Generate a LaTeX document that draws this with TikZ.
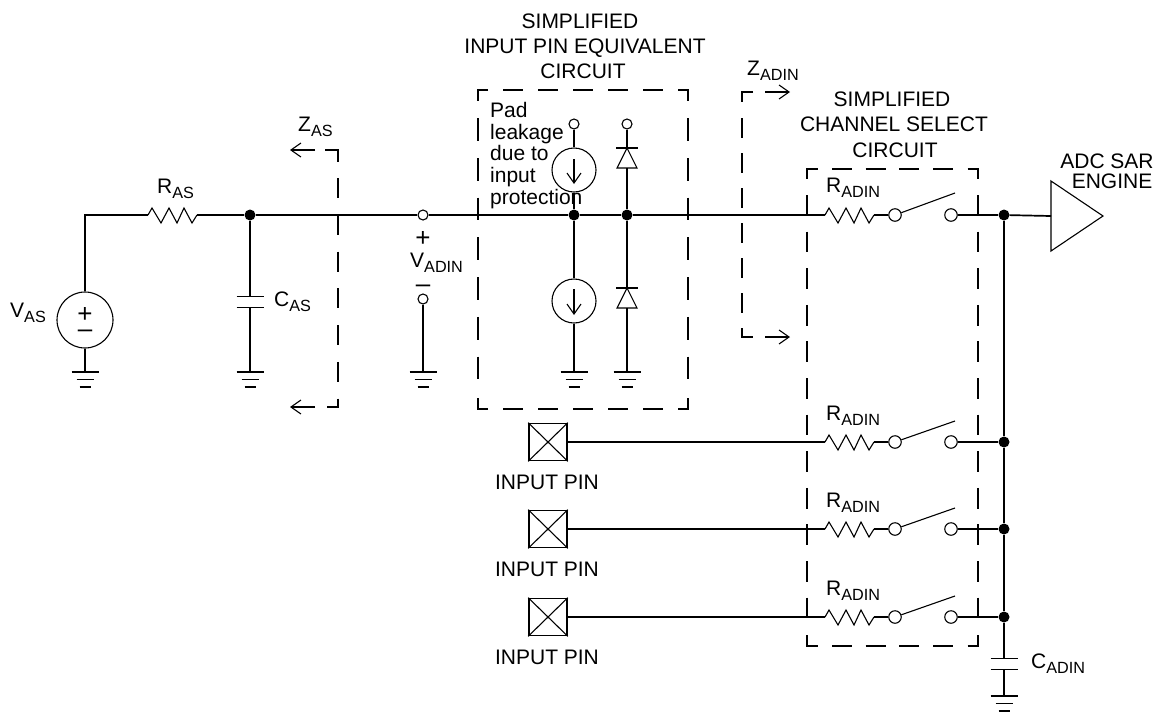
\documentclass[tikz,border=0pt]{standalone}
\usepackage{fontspec}
\setmainfont{Liberation Sans}
\usetikzlibrary{arrows.meta,calc}
\newcommand{\subs}[2]{#1\raisebox{-5pt}{\fontsize{16.2}{16}\selectfont #2}}
\tikzset{
  wire/.style={line width=1.7pt,line cap=butt},
  thinl/.style={line width=1.1pt},
  barb/.style={line width=1.1pt,-{Straight Barb[length=10pt,width=14pt,line width=1.1pt]}},
  dotn/.style={circle,fill=black,draw=none,minimum size=11pt,inner sep=0pt},
  openn/.style={circle,draw=black,fill=white,line width=1.1pt,minimum size=10pt,inner sep=0pt},
  opensw/.style={circle,draw=black,fill=white,line width=1.1pt,minimum size=12.5pt,inner sep=0pt},
  srcn/.style={circle,draw=black,line width=1.1pt,minimum size=44pt,inner sep=0pt},
  pinbox/.style={rectangle,draw=black,line width=1.7pt,minimum width=38pt,minimum height=37pt,inner sep=0pt},
  txt/.style={inner sep=0pt,anchor=base west,font=\fontsize{21}{22}\selectfont},
  ctxt/.style={inner sep=0pt,anchor=base,font=\fontsize{21}{22}\selectfont},
  signtxt/.style={inner sep=0pt,anchor=base,font=\fontsize{26}{26}\selectfont},
  respic/.pic={
    \draw[wire] (0,0) -- (3,0);
    \draw[thinl,line join=miter] (3,0) -- (7,-7) -- (16,8) -- (24,-7) -- (32,8) -- (39,-7) -- (47,8) -- (52,0);
    \draw[wire] (52,0) -- (55,0);
    \coordinate (-in) at (0,0);
    \coordinate (-out) at (55,0);
  },
  gndpic/.pic={
    \draw[wire] (-13.5,0) -- (13.5,0);
    \draw[wire] (-8.5,7.5) -- (8.5,7.5);
    \draw[wire] (-5.5,15) -- (5.5,15);
    \coordinate (-top) at (0,0);
  },
  cappic/.pic={
    \draw[wire] (-13.5,-5.5) -- (13.5,-5.5);
    \draw[wire] (-13.5,5.5) -- (13.5,5.5);
    \coordinate (-top) at (0,-5.5);
    \coordinate (-bot) at (0,5.5);
  },
  diodepic/.pic={
    \draw[wire] (-11,0) -- (11,0);
    \draw[thinl] (0,0) -- (-10,20) -- (10,20) -- cycle;
    \coordinate (-top) at (0,0);
    \coordinate (-bot) at (0,20);
  }
}
\begin{document}
\begin{tikzpicture}[x=1pt,y=-1pt]
\useasboundingbox (0,0) rectangle (1159,713);
\fill[white] (0,0) rectangle (1159,713);

% grounds
\pic (g1) at (85,372) {gndpic};
\pic (g2) at (250,372) {gndpic};
\pic (g3) at (423,372) {gndpic};
\pic (g4) at (574,372) {gndpic};
\pic (g5) at (627,372) {gndpic};
\pic (g6) at (1004,696) {gndpic};

% V_AS part
\node[circle,draw=black,line width=1.1pt,minimum size=56pt,inner sep=0pt] (vas) at (85,320) {};
\coordinate (corner) at (85,215);
\pic (ras) at (145,215) {respic};
\node[dotn] (d1) at (250,215) {};
\pic (cas) at (250,302) {cappic};
\node[openn] (vp) at (423,215) {};
\node[openn] (vm) at (423,299) {};
\draw[wire] (vas) -- (corner) -- (ras-in);
\draw[wire] (vas) -- (g1-top);
\draw[wire] (ras-out) -- (d1);
\draw[wire] (d1) -- (cas-top);
\draw[wire] (cas-bot) -- (g2-top);
\draw[wire] (d1) -- (vp);
\draw[wire] (vm) -- (g3-top);

% Input pin equivalent
\node[dotn] (d2) at (574,215) {};
\node[dotn] (d3) at (627,215) {};
\node[srcn] (i1) at (574,170) {};
\node[srcn] (i2) at (574,301) {};
\node[openn] (t1) at (574,124) {};
\node[openn] (t2) at (627,124) {};
\pic (dd1) at (627,148) {diodepic};
\pic (dd2) at (627,288) {diodepic};
\draw[wire] (t1) -- (i1);
\draw[wire] (i1) -- (d2);
\draw[wire] (d2) -- (i2);
\draw[wire] (i2) -- (g4-top);
\draw[wire] (t2) -- (dd1-top);
\draw[wire] (dd1-bot) -- (d3);
\draw[wire] (d3) -- (dd2-top);
\draw[wire] (dd2-bot) -- (g5-top);
\coordinate (a1s) at (574,159);
\coordinate (a1e) at (574,184);
\coordinate (a2s) at (574,289);
\coordinate (a2e) at (574,315);
\draw[barb] (a1s) -- (a1e);
\draw[barb] (a2s) -- (a2e);

% channel rows
\pic (r1) at (822,215) {respic};
\pic (r2) at (822,442) {respic};
\pic (r3) at (822,529) {respic};
\pic (r4) at (822,617) {respic};
\node[opensw] (sa1) at (895,215) {};
\node[opensw] (sa2) at (895,442) {};
\node[opensw] (sa3) at (895,529) {};
\node[opensw] (sa4) at (895,617) {};
\node[opensw] (sb1) at (951,215) {};
\node[opensw] (sb2) at (951,442) {};
\node[opensw] (sb3) at (951,529) {};
\node[opensw] (sb4) at (951,617) {};
\coordinate (e1) at (955,193);
\coordinate (e2) at (955,421);
\coordinate (e3) at (955,508);
\coordinate (e4) at (955,596);
\node[dotn] (b1) at (1004,215) {};
\node[dotn] (b2) at (1004,442) {};
\node[dotn] (b3) at (1004,529) {};
\node[dotn] (b4) at (1004,617) {};
\node[pinbox] (p2) at (548,442) {};
\node[pinbox] (p3) at (548,529) {};
\node[pinbox] (p4) at (548,617) {};
\foreach \i in {2,3,4}{
  \draw[thinl] (p\i.north west) -- (p\i.south east);
  \draw[thinl] (p\i.north east) -- (p\i.south west);
  \draw[wire] (p\i) -- (r\i-in);
}
\draw[wire] (vp) -- (d2);
\draw[wire] (d2) -- (d3);
\draw[wire] (d3) -- (r1-in);
\foreach \i in {1,2,3,4}{
  \draw[wire] (r\i-out) -- (sa\i);
  \draw[thinl] (sa\i) -- (e\i);
  \draw[wire] (sb\i) -- (b\i);
}
\draw[wire] (b1) -- (b2);
\draw[wire] (b2) -- (b3);
\draw[wire] (b3) -- (b4);
\pic (cad) at (1004,664) {cappic};
\draw[wire] (b4) -- (cad-top);
\draw[wire] (cad-bot) -- (g6-top);

% ADC
\coordinate (adcin) at (1051,216);
\draw[wire] (b1) -- (adcin);
\draw[thinl,line join=miter] (1051,181) -- (1103,216) -- (1051,251) -- cycle;

% dashed frame 1
\draw[wire,line join=miter] (488,90) -- (478,90) -- (478,101);
\draw[wire,line join=miter] (678,90) -- (688,90) -- (688,101);
\draw[wire,line join=miter] (488,409) -- (478,409) -- (478,398);
\draw[wire,line join=miter] (678,409) -- (688,409) -- (688,398);
\foreach \yy in {90,409}{\draw[wire,dash pattern=on 20pt off 15pt] (503,\yy) -- (664,\yy);}
\foreach \xx in {478,688}{\draw[wire,dash pattern=on 22.7pt off 17pt] (\xx,118.3) -- (\xx,381);}

% dashed frame 2
\draw[wire,line join=miter] (817.5,169) -- (807,169) -- (807,178.5);
\draw[wire,line join=miter] (967.5,169) -- (978,169) -- (978,178.5);
\draw[wire,line join=miter] (817.5,646) -- (807,646) -- (807,635);
\draw[wire,line join=miter] (967.5,646) -- (978,646) -- (978,635);
\foreach \yy in {169,646}{\draw[wire,dash pattern=on 20pt off 13.7pt] (832,\yy) -- (953.5,\yy);}
\foreach \xx in {807,978}{\draw[wire,dash pattern=on 20.7pt off 15.9pt] (\xx,195) -- (\xx,618.5);}

% Z_AS bracket
\coordinate (zas1) at (325,150);
\coordinate (zas2) at (338,150);
\coordinate (zas2b) at (338,162);
\coordinate (zas2c) at (338,178.3);
\coordinate (zas3) at (338,407);
\coordinate (zas4) at (325.5,407);
\draw[wire,line join=miter] (zas1) -- (zas2) -- (zas2b);
\draw[wire,line join=miter,dash pattern=on 20pt off 16.7pt] (zas2c) -- (zas3) -- (zas4);
\coordinate (za1s) at (315,150);
\coordinate (za1e) at (290,150);
\coordinate (za2s) at (315,407);
\coordinate (za2e) at (290,407);
\draw[barb] (za1s) -- (za1e);
\draw[barb] (za2s) -- (za2e);

% Z_ADIN bracket
\coordinate (zb1) at (753,92);
\coordinate (zb2) at (742,92);
\coordinate (zb2b) at (742,102);
\coordinate (zb2c) at (742,118.3);
\coordinate (zb3) at (742,337);
\coordinate (zb4) at (753.5,337);
\draw[wire,line join=miter] (zb1) -- (zb2) -- (zb2b);
\draw[wire,line join=miter,dash pattern=on 20pt off 15pt] (zb2c) -- (zb3) -- (zb4);
\coordinate (zc1s) at (765,92);
\coordinate (zc1e) at (790,92);
\coordinate (zc2s) at (765,337);
\coordinate (zc2e) at (790,337);
\draw[barb] (zc1s) -- (zc1e);
\draw[barb] (zc2s) -- (zc2e);

% labels
\node[txt] (lvas) at (10,317) {\subs{V}{AS}};
\node[signtxt] (lp1) at (85,322) {+};
\node[signtxt] (lm1) at (85,337) {–};
\node[txt] (lras) at (157,193) {\subs{R}{AS}};
\node[txt] (lcas) at (274,306) {\subs{C}{AS}};
\node[txt] (lzas) at (298,131) {\subs{Z}{AS}};
\node[signtxt] (lp2) at (423,246) {+};
\node[txt] (lvad) at (410,267) {\subs{V}{ADIN}};
\node[signtxt] (lm2) at (423,292) {–};
\node[txt] (lzad) at (747,75) {\subs{Z}{ADIN}};
\node[ctxt] (t11) at (580,28) {SIMPLIFIED};
\node[ctxt] (t12) at (585,53) {INPUT PIN EQUIVALENT};
\node[ctxt] (t13) at (583,78) {CIRCUIT};
\node[ctxt] (t21) at (892,106) {SIMPLIFIED};
\node[ctxt] (t22) at (894,131.5) {CHANNEL SELECT};
\node[ctxt] (t23) at (895,157) {CIRCUIT};
\node[ctxt] (t31) at (1107,168) {ADC SAR};
\node[ctxt] (t32) at (1112,188) {ENGINE};
\node[txt] (pad1) at (490,117) {Pad};
\node[txt] (pad2) at (490,139) {leakage};
\node[txt] (pad3) at (490,160) {due to};
\node[txt] (pad4) at (490,182) {input};
\node[txt] (pad5) at (490,204) {protection};
\node[txt] (ra1) at (826,192) {\subs{R}{ADIN}};
\node[txt] (ra2) at (826,420) {\subs{R}{ADIN}};
\node[txt] (ra3) at (826,507) {\subs{R}{ADIN}};
\node[txt] (ra4) at (826,595) {\subs{R}{ADIN}};
\node[ctxt] (ip1) at (547,489) {INPUT PIN};
\node[ctxt] (ip2) at (547,576) {INPUT PIN};
\node[ctxt] (ip3) at (547,664) {INPUT PIN};
\node[txt] (lcad) at (1031,668) {\subs{C}{ADIN}};
\end{tikzpicture}
\end{document}
